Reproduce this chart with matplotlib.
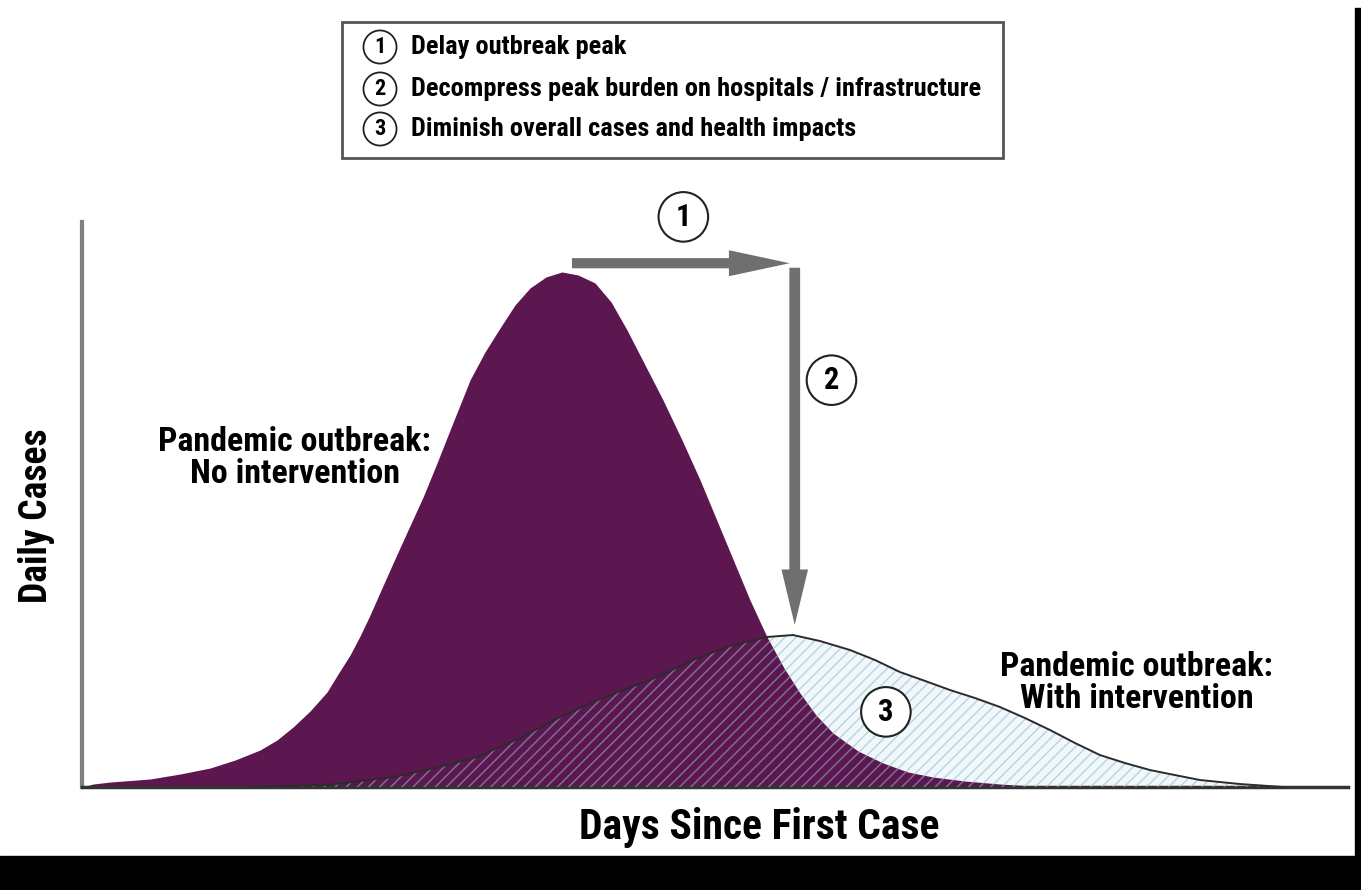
import matplotlib.pyplot as plt
from matplotlib import font_manager
from matplotlib.patches import Rectangle, FancyArrow

# curves: days since first case vs daily cases (relative units)
days_no = [0.0, 0.87, 2.21, 5.37, 7.74, 10.11, 12.09, 14.06, 15.40, 16.67, 18.01, 19.35,
           20.22, 21.17, 21.96, 22.75, 23.62, 24.57, 25.75, 26.94, 28.04, 29.07, 30.65,
           31.83, 33.02, 34.20, 35.39, 36.65, 37.91, 39.18, 40.52, 41.79, 43.05, 44.47,
           45.89, 47.39, 48.82, 50.79, 52.76, 54.11, 55.45, 56.71, 57.98, 59.32, 61.30,
           63.27, 65.25, 67.22, 69.75, 72.51, 76.46]
cases_no = [0.0, 0.53, 0.88, 1.42, 2.30, 3.36, 4.78, 6.55, 8.32, 10.62, 13.45, 16.81,
            20.00, 23.36, 26.73, 30.44, 34.87, 39.65, 45.49, 51.33, 57.35, 63.19, 72.04,
            76.99, 81.24, 85.31, 88.32, 90.27, 91.15, 90.62, 89.20, 85.84, 80.88, 74.69,
            68.50, 61.42, 54.34, 43.72, 33.10, 26.55, 21.06, 16.64, 12.74, 9.56, 6.37,
            4.25, 2.65, 1.77, 1.06, 0.53, 0.0]

days_with = [13.27, 16.43, 19.35, 21.96, 24.57, 27.88, 31.20, 34.60, 37.76, 41.31, 44.87,
             48.82, 51.18, 54.11, 56.16, 58.29, 60.66, 62.64, 64.61, 66.61, 68.56, 70.54,
             72.51, 74.49, 76.46, 78.44, 80.41, 82.38, 84.36, 86.33, 88.31, 91.47, 94.87]
cases_with = [0.0, 0.18, 0.35, 1.06, 1.77, 3.36, 5.31, 8.67, 12.39, 15.93, 18.94,
              23.01, 24.96, 26.55, 26.90, 25.84, 24.25, 22.48, 20.35, 18.76, 17.17, 15.75,
              14.16, 12.21, 10.09, 7.79, 5.66, 4.25, 3.01, 2.12, 1.24, 0.53, 0.0]

steps = ['Delay outbreak peak',
         'Decompress peak burden on hospitals / infrastructure',
         'Diminish overall cases and health impacts']
step_marks = ['1', '2', '3']

names = {f.name for f in font_manager.fontManager.ttflist}
narrow = next((n for n in ['Liberation Sans Narrow', 'Roboto Condensed', 'Open Sans Condensed']
               if n in names), 'Roboto')
plt.rcParams['font.family'] = [narrow, 'DejaVu Sans']
plt.rcParams['font.weight'] = 'bold'
plt.rcParams['hatch.linewidth'] = 1.1

purple = '#5c1650'
grey_arrow = '#6f6f6f'

fig = plt.figure(figsize=(13.61, 8.90), dpi=100)
ax = fig.add_axes([0.0603, 0.1157, 0.9301, 0.6349])
ax.set_xlim(0, 100)
ax.set_ylim(0, 100)

# pale blue body of the intervention curve, then the purple one, then the hatch over both
ax.fill_between(days_with, cases_with, color='#f0f8fb', lw=0, zorder=1)
ax.fill_between(days_no, cases_no, color=purple, lw=0, zorder=2)
ax.fill_between(days_with, cases_with, facecolor='none', edgecolor='#93b9cc', alpha=0.55,
                hatch='///', lw=0, zorder=3)
ax.plot(days_with, cases_with, color='#2b2b2b', lw=1.4, zorder=4)

for s in ['top', 'right']:
    ax.spines[s].set_visible(False)
ax.spines['left'].set_color('#808080')
ax.spines['left'].set_linewidth(3)
ax.spines['bottom'].set_color('#333333')
ax.spines['bottom'].set_linewidth(2.5)
ax.set_xticks([])
ax.set_yticks([])

# arrows 1 and 2
ax.add_patch(FancyArrow(38.7, 92.7, 17.2, 0, width=1.8, head_width=4.6, head_length=4.8,
                        length_includes_head=True, color=grey_arrow, lw=0, zorder=5))
ax.add_patch(FancyArrow(56.3, 91.9, 0, -63.2, width=0.85, head_width=2.1, head_length=9.8,
                        length_includes_head=True, color=grey_arrow, lw=0, zorder=5))

circ = dict(boxstyle='circle,pad=0.32', fc='white', ec='#222222', lw=1.5)
ax.text(47.5, 100.9, '1', fontsize=22, ha='center', va='center', bbox=circ, clip_on=False)
ax.text(59.2, 72.0, '2', fontsize=22, ha='center', va='center', bbox=circ)
ax.text(63.5, 13.3, '3', fontsize=22, ha='center', va='center', bbox=circ, zorder=6)

ax.text(16.8, 58.2, 'Pandemic outbreak:\nNo intervention', fontsize=24.5, ha='center',
        va='center', linespacing=1.0)
ax.text(83.3, 18.4, 'Pandemic outbreak:\nWith intervention', fontsize=24.5, ha='center',
        va='center', linespacing=1.0)

fig.text(0.027, 0.421, 'Daily Cases', fontsize=27, rotation=90, ha='center', va='center')
fig.text(0.558, 0.070, 'Days Since First Case', fontsize=30, ha='center', va='center')

# header box with the three goals
fig.patches.append(Rectangle((342 / 1361, 1 - 158 / 890), 661 / 1361, 136 / 890,
                             transform=fig.transFigure, fill=False, ec='#555555', lw=2))
small_circ = dict(boxstyle='circle,pad=0.25', fc='white', ec='#222222', lw=1.3)
for i, (mark, line) in enumerate(zip(step_marks, steps)):
    yy = 1 - [47, 89, 129][i] / 890
    fig.text(380 / 1361, yy, mark, fontsize=16, ha='center', va='center', bbox=small_circ)
    fig.text(411 / 1361, yy, line, fontsize=19, ha='left', va='center')

# black frame pieces at bottom and right
fig.patches.append(Rectangle((0, 0), 1, 34 / 890, transform=fig.transFigure, color='black'))
fig.patches.append(Rectangle((1355 / 1361, 0), 6 / 1361, 882 / 890,
                             transform=fig.transFigure, color='black'))

fig.savefig('out.png', dpi=100)
